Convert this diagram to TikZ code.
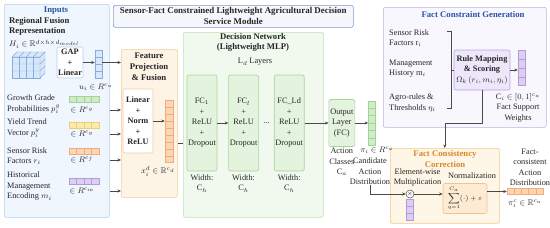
\documentclass[tikz,border=0pt]{standalone}
\usepackage{amsmath,amssymb}
\usepackage{fontspec}
\setmainfont{Liberation Serif}
\usetikzlibrary{arrows.meta, positioning, calc}

\definecolor{txtc}{HTML}{262626}
\definecolor{arrc}{HTML}{4A4A4A}
\definecolor{ttlblue}{HTML}{2A52A3}
\definecolor{ttlorange}{HTML}{D9862B}
\definecolor{inbg}{HTML}{F0F6FD}
\definecolor{inbd}{HTML}{B3CEEE}
\definecolor{ftbg}{HTML}{FEF4E6}
\definecolor{ftbd}{HTML}{F5CB9A}
\definecolor{bnbg}{HTML}{F4F7FC}
\definecolor{bnbd}{HTML}{7F9CCB}
\definecolor{dcbg}{HTML}{F1F9EE}
\definecolor{dcbd}{HTML}{BFE1B2}
\definecolor{fcbg}{HTML}{E4F3DE}
\definecolor{fcbd}{HTML}{A8D39A}
\definecolor{fgbg}{HTML}{F9F7FE}
\definecolor{fgbd}{HTML}{BDB2E0}
\definecolor{rlbg}{HTML}{EDE7FA}
\definecolor{rlbd}{HTML}{B6A6E2}
\definecolor{ccbg}{HTML}{FEF6E6}
\definecolor{ccbd}{HTML}{F3C97F}
\definecolor{nmbg}{HTML}{FDEBD3}
\definecolor{nmbd}{HTML}{F0C596}
\definecolor{bluec}{HTML}{D8E7F9}
\definecolor{blued}{HTML}{86ADDC}
\definecolor{greenc}{HTML}{CFEBC7}
\definecolor{greend}{HTML}{A3D296}
\definecolor{yellowc}{HTML}{FBEAA9}
\definecolor{yellowd}{HTML}{EACF75}
\definecolor{orangec}{HTML}{FBD5B4}
\definecolor{oranged}{HTML}{F1AC7C}
\definecolor{purplec}{HTML}{DDCFF1}
\definecolor{purpled}{HTML}{B39BDA}

\tikzset{
  txt/.style={inner sep=0pt, align=center, text=txtc, font=\fontsize{8.3}{10.5}\selectfont},
  ttl/.style={txt, font=\fontsize{8.7}{10.8}\selectfont\bfseries},
  panel/.style={draw, rounded corners=2pt, line width=0.6pt, anchor=north west, inner sep=0pt},
  box/.style={draw, rounded corners=2pt, line width=0.6pt, inner sep=0pt, align=center, text=txtc, font=\fontsize{8.3}{10.5}\selectfont},
  fcbox/.style={box, fill=fcbg, draw=fcbd, minimum width=30pt, minimum height=96pt},
  vecbox/.style={draw, inner sep=0pt, line width=0.4pt},
  arr/.style={-{Stealth[length=3.5pt,width=3pt]}, draw=arrc, line width=0.5pt},
  link/.style={draw=arrc, line width=0.5pt}
}

% cell dividers of a vector node: node, cells, colour
\newcommand{\vcells}[3]{%
  \pgfmathtruncatemacro{\ncut}{#2-1}
  \foreach \k in {1,...,\ncut}
    \draw[#3, line width=0.4pt] ($(#1.north west)!\k/#2!(#1.south west)$) -- ($(#1.north east)!\k/#2!(#1.south east)$);
}
\newcommand{\hcells}[3]{%
  \pgfmathtruncatemacro{\ncut}{#2-1}
  \foreach \k in {1,...,\ncut}
    \draw[#3, line width=0.4pt] ($(#1.north west)!\k/#2!(#1.north east)$) -- ($(#1.south west)!\k/#2!(#1.south east)$);
}

\begin{document}
\begin{tikzpicture}[x=1pt, y=-1pt]
\useasboundingbox (0,0) rectangle (550,228);

% panels
\node[panel, fill=inbg, draw=inbd, minimum width=105pt, minimum height=213pt] (inputs) at (4,4) {};
\node[panel, fill=ftbg, draw=ftbd, minimum width=56pt, minimum height=148pt] (feat) at (121,49) {};
\node[panel, fill=bnbg, draw=bnbd, minimum width=240pt, minimum height=22pt] (banner) at (113,5) {};
\node[panel, fill=dcbg, draw=dcbd, minimum width=140pt, minimum height=185pt] (dec) at (183,32) {};
\node[panel, fill=fgbg, draw=fgbd, minimum width=163pt, minimum height=120pt] (fcg) at (383,7) {};
\node[panel, fill=ccbg, draw=ccbd, minimum width=109pt, minimum height=75pt] (corr) at (390,148) {};

% inputs
\node[ttl, text=ttlblue] (intitle) at (56,11) {Inputs};
\node[ttl, anchor=west, align=left] (regfus) at (9,26.5) {Regional Fusion\\Representation};
\node[txt, anchor=west] (hlab) at (9,44) {$H_i \in \mathbb{R}^{d\times h\times d_{model}}$};

% cube
\draw[fill=bluec, draw=blued, line width=0.4pt] (12,57) rectangle (40,78);
\draw[fill=bluec, draw=blued, line width=0.4pt] (12,57) -- (17,52) -- (45,52) -- (40,57) -- cycle;
\draw[fill=bluec, draw=blued, line width=0.4pt] (40,57) -- (45,52) -- (45,73) -- (40,78) -- cycle;
\foreach \c in {19,26,33} {
  \draw[blued, line width=0.4pt] (\c,57) -- (\c,78);
  \draw[blued, line width=0.4pt] (\c,57) -- ++(5,-5);
}
\foreach \r in {64,71} {
  \draw[blued, line width=0.4pt] (12,\r) -- (40,\r) -- ++(5,-5);
}

\node[box, fill=white, draw=inbd, minimum width=26pt, minimum height=31pt, font=\fontsize{8.3}{10.5}\selectfont\bfseries] (gap) at (70,62.5) {GAP\\+\\Linear};
\node[vecbox, fill=bluec, draw=blued, minimum width=7pt, minimum height=28pt] (uvec) at (98.5,64) {};
\vcells{uvec}{4}{blued}
\node[txt] (ulab) at (96,87) {$u_i \in R^{c_u}$};

\node[txt, anchor=west, align=left] (glab) at (7,104.5) {Growth Grade\\Probabilities $p_i^g$};
\node[vecbox, fill=greenc, draw=greend, minimum width=30pt, minimum height=6pt] (gstr) at (84,99) {};
\hcells{gstr}{4}{greend}
\node[txt] (gdim) at (82,110) {$\in R^{c_g}$};

\node[txt, anchor=west, align=left] (ylab) at (7,128.5) {Yield Trend\\Vector $p_i^y$};
\node[vecbox, fill=yellowc, draw=yellowd, minimum width=30pt, minimum height=6pt] (ystr) at (84,125) {};
\hcells{ystr}{4}{yellowd}
\node[txt] (ydim) at (82,134) {$\in R^{c_y}$};

\node[txt, anchor=west, align=left] (rlab) at (7,156) {Sensor Risk\\Factors $r_i$};
\node[vecbox, fill=orangec, draw=oranged, minimum width=30pt, minimum height=6pt] (rstr) at (84,151) {};
\hcells{rstr}{4}{oranged}
\node[txt] (rdim) at (82,160) {$\in R^{c_f}$};

\node[txt, anchor=west, align=left] (mlab) at (7,186.5) {Historical\\Management\\Encoding $m_i$};
\node[vecbox, fill=purplec, draw=purpled, minimum width=30pt, minimum height=6pt] (mstr) at (84,181) {};
\hcells{mstr}{4}{purpled}
\node[txt] (mdim) at (82,191) {$\in R^{c_m}$};

\draw[arr] (gap.east) -- (gap.east -| uvec.west);
\draw[arr] (uvec.east |- gap.east) -- (gap.east -| feat.west);
\draw[arr] (inputs.east |- gdim) -- (feat.west |- gdim);
\draw[arr] (inputs.east |- ydim) -- (feat.west |- ydim);
\draw[arr] (inputs.east |- rdim) -- (feat.west |- rdim);
\draw[arr] (inputs.east |- mdim) -- (feat.west |- mdim);

% feature projection
\node[ttl] (feattitle) at (149,66.5) {Feature\\Projection\\\& Fusion};
\node[box, fill=white, draw=ftbd, minimum width=30pt, minimum height=64pt, font=\fontsize{8.3}{10.5}\selectfont\bfseries] (lin) at (138,121) {Linear\\+\\Norm\\+\\ReLU};
\node[vecbox, fill=orangec, draw=oranged, minimum width=8pt, minimum height=62pt] (xvec) at (169,131.5) {};
\vcells{xvec}{9}{oranged}
\node[txt] (xlab) at (158,171.5) {$x_i^d \in \mathbb{R}^{c_d}$};
\draw[arr] (lin.east) -- (lin.east -| xvec.west);
\coordinate (fj) at (180,143);
\draw[link] (feat.east |- fj) -- (dec.west |- fj);

% banner
\node[ttl, font=\fontsize{8.9}{10.8}\selectfont\bfseries] (bantext) at (banner.center) {Sensor-Fact Constrained Lightweight Agricultural Decision\\Service Module};

% decision network
\node[ttl] (dectitle) at (253,42.5) {Decision Network\\(Lightweight MLP)};
\node[txt] (ldlab) at (255,62) {L$_d$ Layers};
\node[fcbox] (fc1) at (202,123) {FC$_1$\\+\\ReLU\\+\\Dropout};
\node[fcbox, right=11pt of fc1] (fcl) {FC$_l$\\+\\ReLU\\+\\Dropout};
\node[fcbox, right=15pt of fcl] (fcL) {FC\_Ld\\+\\ReLU\\+\\Dropout};
\node[txt, below=3pt of fc1] (w1) {Width:\\C$_h$};
\node[txt, below=3pt of fcl] (w2) {Width:\\C$_h$};
\node[txt, below=3pt of fcL] (w3) {Width:\\C$_h$};
\node[txt] (dots) at ($(fcl.east)!0.5!(fcL.west)$) {...};
\draw[arr] (fc1) -- (fcl);

\node[box, fill=fcbg, draw=fcbd, minimum width=26pt, minimum height=47pt, right=24pt of fcL] (outl) {Output\\Layer\\(FC)};
\node[vecbox, fill=greenc, draw=greend, minimum width=7pt, minimum height=44pt, right=13pt of outl] (piv) {};
\vcells{piv}{6}{greend}
\draw[arr] (fcL) -- (outl);
\draw[arr] (outl) -- (piv);
\node[txt, below=1.5pt of outl] (acls) {Action\\Classes\\C$_a$};
\node[txt] (pilab) at (377,150) {$\pi_i \in R^{c_a}$};
\node[txt] (cand) at (370,171.5) {Candidate\\Action\\Distribution};

% fact constraint generation
\node[ttl, text=ttlblue] (fcgtitle) at (473,15) {Fact Constraint Generation};
\node[txt, anchor=west, align=left] (fr1) at (389,38) {Sensor Risk\\Factors r$_i$};
\node[txt, anchor=west, align=left] (fr2) at (389,68.5) {Management\\History m$_i$};
\node[txt, anchor=west, align=left] (fr3) at (389,103) {Agro-rules \&\\Thresholds $\eta_i$};
\node[box, fill=rlbg, draw=rlbd, minimum width=56pt, minimum height=40pt] (rule) at (482,70) {\textbf{Rule Mapping}\\\textbf{\& Scoring}\\$\Omega_k\,(r_i,m_i,\eta_i)$};
\coordinate (brk) at (451,70);
\draw[link] (447,31) -| (451,108) -- (447,108);
\draw[link] (brk) -- (rule.west);
\node[vecbox, fill=purplec, draw=purpled, minimum width=7pt, minimum height=35pt] (cvec) at (521.5,68) {};
\vcells{cvec}{4}{purpled}
\draw[arr] (rule.east) -- (rule.east -| cvec.west);
\node[txt] (clab) at (518,107.5) {C$_i \in [0,1]^{c_a}$\\Fact Support\\Weights};

% fact consistency correction
\node[ttl, text=ttlorange] (corrtitle) at (445,159) {Fact Consistency\\Correction};
\node[txt] (mullab) at (417.5,177.5) {Element-wise\\Multiplication};
\node[circle, draw=arrc, fill=white, line width=0.5pt, inner sep=0pt, minimum size=8pt, font=\fontsize{6}{6}\selectfont] (mult) at (410,194) {$\times$};
\node[vecbox, fill=purplec, draw=purpled, minimum width=7pt, minimum height=21pt, below=0.5pt of mult] (mvec) {};
\vcells{mvec}{3}{purpled}
\node[txt] (normlab) at (472,176) {Normalization};
\node[box, fill=nmbg, draw=nmbd, minimum width=44pt, minimum height=30pt, font=\fontsize{7.4}{9}\selectfont] (norm) at (465,198.5) {$\displaystyle\sum_{q=1}^{C_a}(\cdot)+\varepsilon$};
\node[vecbox, fill=orangec, draw=oranged, minimum width=36pt, minimum height=6pt] (ostr) at (525,191.5) {};
\hcells{ostr}{5}{oranged}
\node[txt] (olab) at (525,203.5) {$\pi_i^c \in \mathbb{R}^{c_a}$};
\node[txt] (ofin) at (530,167.5) {Fact-\\consistent\\Action\\Distribution};

\draw[arr] (cand.south) |- (mult.west);
\draw[arr] (rule.south) -- ++(0,33) -| (corr.north);
\draw[arr] (mult.east) -- (mult.east -| norm.west);
\draw[arr] (norm.east |- ostr) -- (ostr.west);
\end{tikzpicture}
\end{document}
